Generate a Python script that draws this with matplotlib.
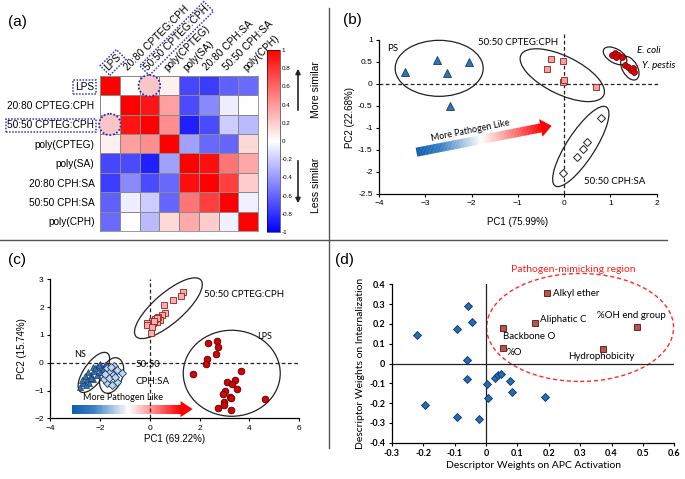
import numpy as np
import matplotlib
matplotlib.use('Agg')
import matplotlib.pyplot as plt
from matplotlib.patches import Ellipse, Polygon
from matplotlib.colors import LinearSegmentedColormap
import matplotlib.transforms as mtransforms
from matplotlib.cm import ScalarMappable
from matplotlib.colors import Normalize

# ---------------- data ----------------
# (a) correlation heatmap
hm_labels = ['LPS', '20:80 CPTEG:CPH', '50:50 CPTEG:CPH', 'poly(CPTEG)',
             'poly(SA)', '20:80 CPH:SA', '50:50 CPH:SA', 'poly(CPH)']
hm_boxed = ['LPS', '50:50 CPTEG:CPH']
corr = [
    [1.00, 0.00, 0.00, 0.06, -0.72, -0.76, -0.62, -0.58],
    [0.00, 1.00, 0.92, 0.37, -0.71, -0.46, -0.07, 0.00],
    [0.00, 0.92, 1.00, 0.44, -0.87, -0.71, -0.20, -0.27],
    [0.06, 0.37, 0.44, 1.00, -0.37, -0.59, -0.60, 0.15],
    [-0.72, -0.71, -0.87, -0.37, 1.00, 0.94, 0.54, 0.35],
    [-0.76, -0.46, -0.71, -0.59, 0.94, 1.00, 0.75, 0.20],
    [-0.62, -0.07, -0.20, -0.60, 0.54, 0.75, 1.00, -0.06],
    [-0.58, 0.00, -0.27, 0.15, 0.33, 0.20, -0.06, 1.00],
]
hm_circles = [(0, 2), (2, 0)]           # (row, col) highlighted cells
cbar_ticks = [1, 0.8, 0.6, 0.4, 0.2, 0, -0.2, -0.4, -0.6, -0.8, -1]

# (b) PCA
b_ps_x = [-3.44, -2.75, -2.54, -2.05, -2.47]
b_ps_y = [0.28, 0.55, 0.26, 0.49, -0.50]
b_cpteg_x = [-0.29, -0.38, -0.03, -0.03, 0.00, 0.69]
b_cpteg_y = [0.56, 0.33, 0.52, 0.05, 0.08, -0.06]
b_cphsa_x = [0.79, 0.49, 0.40, 0.27, -0.03]
b_cphsa_y = [-0.78, -1.31, -1.48, -1.65, -2.02]
b_ecoli_x = [1.03, 1.10, 1.17, 1.25, 1.13]
b_ecoli_y = [0.66, 0.70, 0.66, 0.62, 0.61]
b_ypestis_x = [1.32, 1.39, 1.44, 1.48, 1.50]
b_ypestis_y = [0.43, 0.38, 0.32, 0.36, 0.28]
b_xticks = [-4, -3, -2, -1, 0, 1, 2]
b_yticks = [-2.5, -2, -1.5, -1, -0.5, 0, 0.5, 1]
b_yticklabels = ['-2.5', '-2', '-1.5', '-1', '-0.5', '0', '0.5', '1']

# (c) PCA
c_cpteg_x = [1.35, 1.25, 0.95, 0.59, 0.61, 0.48, 0.41, 0.34, 0.28, 0.21,
             0.14, 0.08, -0.02, -0.10, -0.12, 0.08, 0.04, 0.30, 0.18]
c_cpteg_y = [2.53, 2.41, 2.26, 2.09, 1.78, 1.72, 1.55, 1.63, 1.47, 1.56,
             1.42, 1.51, 1.40, 1.44, 1.36, 1.27, 1.06, 1.60, 1.50]
c_lps_x = [2.33, 2.69, 2.75, 2.65, 2.31, 2.24, 1.72, 3.66, 3.09, 3.44, 3.32,
           3.51, 3.03, 2.93, 3.22, 3.28, 2.98, 2.98, 3.25, 2.73, 4.61]
c_lps_y = [0.72, 0.79, 0.58, 0.31, 0.12, -0.06, -0.41, -0.30, -0.69, -0.63, -0.78,
           -0.95, -1.01, -1.13, -1.22, -1.28, -1.40, -1.52, -1.70, -1.64, -1.30]
c_ns_x = [-2.80, -2.66, -2.50, -2.37, -2.24, -2.10, -1.99, -1.78, -2.29, -2.46, -2.60,
          -2.13, -1.99, -1.86, -2.42, -2.26, -2.70, -2.55, -2.35, -2.18, -2.05]
c_ns_y = [-0.86, -0.72, -0.60, -0.44, -0.30, -0.14, -0.05, -0.08, -0.14, -0.32, -0.48,
          -0.44, -0.32, -0.24, -0.72, -0.60, -0.62, -0.80, -0.55, -0.20, -0.10]
c_cphsa_x = [-1.73, -1.45, -1.59, -1.46, -1.30, -1.10, -1.32, -1.70, -1.85, -1.52,
             -1.62, -1.55, -1.80, -1.38]
c_cphsa_y = [-0.20, -0.12, -0.32, -0.44, -0.26, -0.38, -0.68, -0.72, -0.60, -0.80,
             -0.55, -0.15, -0.40, -0.50]
c_xticks = [-4, -2, 0, 2, 4, 6]
c_yticks = [-2, -1, 0, 1, 2, 3]

# (d) descriptor weights
d_other_x = [-0.056, -0.043, -0.093, -0.220, -0.061, -0.061, 0.005, 0.029, 0.040,
             0.047, 0.077, 0.083, 0.006, 0.188, -0.194, -0.093, -0.022]
d_other_y = [0.292, 0.208, 0.173, 0.144, 0.018, -0.078, -0.103, -0.071, -0.058,
             -0.053, -0.090, -0.142, -0.176, -0.171, -0.209, -0.270, -0.282]
d_path_names = ['Alkyl ether', 'Aliphatic C', 'Backbone O', '%O',
                '%OH end group', 'Hydrophobicity']
d_path_x = [0.194, 0.156, 0.054, 0.054, 0.480, 0.372]
d_path_y = [0.355, 0.203, 0.179, 0.080, 0.183, 0.073]
d_xticks = [-0.3, -0.2, -0.1, 0, 0.1, 0.2, 0.3, 0.4, 0.5, 0.6]
d_xticklabels = ['-0.3', '-0.2', '-0.1', '0', '0.1', '0.2', '0.3', '0.4', '0.5', '0.6']
d_yticks = [-0.4, -0.3, -0.2, -0.1, 0, 0.1, 0.2, 0.3, 0.4]
d_yticklabels = ['-0.4', '-0.3', '-0.2', '-0.1', '0', '0.1', '0.2', '0.3', '0.4']

# ---------------- figure ----------------
W, H = 685, 479
fig = plt.figure(figsize=(6.85, 4.79), dpi=100)
ARIAL = 'Liberation Sans'
CAL = 'Lato'


def axrect(x0, y0, x1, y1):
    return [x0 / W, 1 - y1 / H, (x1 - x0) / W, (y1 - y0) / H]


def px_ellipse(ax, cx, cy, w, h, angle=0, **kw):
    tr = fig.dpi_scale_trans + mtransforms.ScaledTranslation(cx, cy, ax.transData)
    e = Ellipse((0, 0), w / fig.dpi, h / fig.dpi, angle=angle, transform=tr,
                fill=False, clip_on=False, **kw)
    ax.add_patch(e)


arrow_cmap = LinearSegmentedColormap.from_list(
    'arr', [(0, '#0d5cb0'), (0.2, '#3a7fc4'), (0.52, '#ffffff'), (0.8, '#ff7070'), (1, '#ff0000')])


def gradient_arrow(ax, start, end, shaft_px, head_w_px, head_len_px, n=90):
    dpi = fig.dpi
    p0 = ax.transData.transform(start)
    p1 = ax.transData.transform(end)
    d = (p1 - p0) / dpi
    L = np.hypot(*d)
    u = d / L
    nrm = np.array([-u[1], u[0]])
    tr = fig.dpi_scale_trans + mtransforms.ScaledTranslation(start[0], start[1], ax.transData)
    sw = shaft_px / dpi / 2
    hw = head_w_px / dpi / 2
    hl = head_len_px / dpi
    Ls = L - hl
    for i in range(n):
        a = Ls * i / n
        b = Ls * (i + 1) / n + 0.003
        verts = [a * u + sw * nrm, b * u + sw * nrm, b * u - sw * nrm, a * u - sw * nrm]
        ax.add_patch(Polygon(verts, closed=True, transform=tr, lw=0,
                             facecolor=arrow_cmap((i + 0.5) / n), edgecolor='none', clip_on=False))
    head = [Ls * u + hw * nrm, L * u, Ls * u - hw * nrm]
    ax.add_patch(Polygon(head, closed=True, transform=tr, lw=0,
                         facecolor=arrow_cmap(1.0), edgecolor='none', clip_on=False))


def style_axes(ax, fs=6, family=ARIAL, weight='normal'):
    for s in ['top', 'right']:
        ax.spines[s].set_visible(False)
    for s in ['left', 'bottom']:
        ax.spines[s].set_linewidth(0.9)
    ax.tick_params(direction='out', length=2.5, width=0.8, labelsize=fs, pad=2)
    for t in ax.get_xticklabels() + ax.get_yticklabels():
        t.set_family(family)
        t.set_weight(weight)


# overlay axes (pixel coordinates) for dividers, labels, side arrows
ov = fig.add_axes([0, 0, 1, 1], zorder=5)
ov.set_xlim(0, W)
ov.set_ylim(H, 0)
ov.axis('off')
ov.patch.set_alpha(0)
ov.plot([329, 329], [8, 448], color='#555555', lw=1)
ov.plot([0, 667], [240, 240], color='#555555', lw=1)
for lab, (x, y) in zip(['(a)', '(b)', '(c)', '(d)'],
                       [(8, 22), (343, 20), (8, 260), (335, 260)]):
    ov.text(x, y, lab, fontsize=11, family=ARIAL, ha='left', va='center')

# ---------------- (a) heatmap ----------------
axa = fig.add_axes(axrect(100, 76, 258, 231))
M = np.array(corr)
n = len(hm_labels)
axa.pcolormesh(np.arange(n + 1), np.arange(n + 1), M, cmap='bwr', vmin=-1, vmax=1,
               edgecolors='#8a8a8a', linewidth=0.6)
axa.set_xlim(0, n)
axa.set_ylim(n, 0)
axa.set_xticks([])
axa.set_yticks(np.arange(n) + 0.5)
axa.set_yticklabels(hm_labels, fontsize=7.3, family=ARIAL)
axa.tick_params(axis='y', length=0, pad=4)
for s in axa.spines.values():
    s.set_linewidth(0.6)
    s.set_color('#8a8a8a')
box_kw = dict(boxstyle='square,pad=0.18', fc='none', ec='#2a36d0', ls=(0, (1, 1)), lw=1.1)
for t in axa.get_yticklabels():
    if t.get_text() in hm_boxed:
        t.set_bbox(box_kw)
for i, lab in enumerate(hm_labels):
    axa.text(i + 0.32, -0.35, lab, rotation=45, ha='left', va='center',
             rotation_mode='anchor', fontsize=7.3, family=ARIAL,
             bbox=box_kw if lab in hm_boxed else None, clip_on=False)
for r, c in hm_circles:
    axa.add_patch(Ellipse((c + 0.5, r + 0.5), 1.1, 1.1, facecolor='#f9c6c6',
                          edgecolor='#2a2ac0', ls=(0, (1, 1)), lw=1.3, clip_on=False, zorder=3))

cax = fig.add_axes(axrect(267, 50, 280, 232))
sm = ScalarMappable(norm=Normalize(-1, 1), cmap='bwr')
cb = fig.colorbar(sm, cax=cax, ticks=cbar_ticks)
cb.ax.set_yticklabels([('%g' % v) for v in cbar_ticks], fontsize=4.5, family=ARIAL)
cb.ax.tick_params(length=0, pad=1)
cb.outline.set_linewidth(0.4)

ov.annotate('', xy=(298, 66), xytext=(298, 113),
            arrowprops=dict(arrowstyle='-|>', color='#222222', lw=1.2, mutation_scale=7))
ov.annotate('', xy=(298, 206), xytext=(298, 158),
            arrowprops=dict(arrowstyle='-|>', color='#222222', lw=1.2, mutation_scale=7))
ov.text(316, 90, 'More similar', rotation=90, ha='center', va='center', fontsize=7.5, family=ARIAL)
ov.text(316, 185, 'Less similar', rotation=90, ha='center', va='center', fontsize=7.5, family=ARIAL)

# ---------------- (b) ----------------
axb = fig.add_axes(axrect(379, 40, 656.7, 194))
axb.set_xlim(-4, 2)
axb.set_ylim(-2.5, 1)
axb.set_xticks(b_xticks)
axb.set_yticks(b_yticks)
axb.set_yticklabels(b_yticklabels)
style_axes(axb)
axb.set_xlabel('PC1 (75.99%)', fontsize=7, family=ARIAL, labelpad=7)
axb.set_ylabel('PC2 (22.68%)', fontsize=7, family=ARIAL, labelpad=2)
axb.plot([-4, 2.07], [0, 0], ls=(0, (3, 2)), color='#222222', lw=0.9, clip_on=False)
axb.plot([0, 0], [-2.5, 1.19], ls=(0, (3, 2)), color='#222222', lw=0.9, clip_on=False)
axb.plot(b_ps_x, b_ps_y, ls='none', marker='^', ms=5.5, mfc='#2e75b6', mec='#1f3864', mew=0.6, zorder=4)
axb.plot(b_cpteg_x, b_cpteg_y, ls='none', marker='s', ms=4.8, mfc='#f2a0a0', mec='#8b2020', mew=0.6, zorder=4)
axb.plot(b_cphsa_x, b_cphsa_y, ls='none', marker='D', ms=3.7, mfc='white', mec='#222222', mew=0.7, zorder=4)
axb.plot(b_ecoli_x, b_ecoli_y, ls='none', marker='o', ms=4.3, mfc='#e00000', mec='#600000', mew=0.5, zorder=4)
axb.plot(b_ypestis_x, b_ypestis_y, ls='none', marker='o', ms=4.3, mfc='#e00000', mec='#600000', mew=0.5, zorder=4)
px_ellipse(axb, -2.70, 0.356, 88, 56, 0, ec='#222222', lw=0.9)
px_ellipse(axb, -0.04, 0.20, 92, 38, -26, ec='#222222', lw=0.9)
px_ellipse(axb, 0.36, -1.42, 94, 28, 57, ec='#222222', lw=0.9)
px_ellipse(axb, 1.10, 0.64, 26, 14, -30, ec='#222222', lw=0.9)
px_ellipse(axb, 1.42, 0.36, 26, 15, -60, ec='#222222', lw=0.9)
axb.text(-3.83, 0.81, 'PS', fontsize=7, family=CAL, ha='left', va='center')
axb.text(-0.99, 0.94, '50:50 CPTEG:CPH', fontsize=7, family=CAL, ha='center', va='center')
axb.text(0.42, -2.22, '50:50 CPH:SA', fontsize=7, family=CAL, ha='left', va='center')
axb.text(1.57, 0.77, 'E. coli', fontsize=7, family=CAL, style='italic', ha='left', va='center', clip_on=False)
axb.text(1.68, 0.43, 'Y. pestis', fontsize=7, family=CAL, style='italic', ha='left', va='center', clip_on=False)
gradient_arrow(axb, (-3.19, -1.55), (-0.27, -0.95), 9, 18, 11)
axb.text(-2.03, -1.07, 'More Pathogen Like', fontsize=6.5, family=CAL, rotation=11.5,
         ha='center', va='center')

# ---------------- (c) ----------------
axc = fig.add_axes(axrect(50, 279.3, 299.3, 418.3))
axc.set_xlim(-4, 6)
axc.set_ylim(-2, 3)
axc.set_xticks(c_xticks)
axc.set_yticks(c_yticks)
style_axes(axc)
axc.set_xlabel('PC1 (69.22%)', fontsize=7, family=ARIAL, labelpad=2)
axc.set_ylabel('PC2 (15.74%)', fontsize=7, family=ARIAL, labelpad=5)
axc.plot([-4, 6], [0, 0], ls=(0, (3, 2)), color='#222222', lw=0.9, clip_on=False)
axc.plot([0, 0], [-2, 3], ls=(0, (3, 2)), color='#222222', lw=0.9, clip_on=False)
axc.plot(c_cpteg_x, c_cpteg_y, ls='none', marker='s', ms=4.1, mfc='#f4b0b0', mec='#9b1c1c', mew=0.6, zorder=4)
axc.plot(c_lps_x, c_lps_y, ls='none', marker='o', ms=4.8, mfc='#d80000', mec='#500000', mew=0.6, zorder=4)
axc.plot(c_ns_x, c_ns_y, ls='none', marker='^', ms=3.8, mfc='#2e75b6', mec='#1f3864', mew=0.5, zorder=4)
axc.plot(c_cphsa_x, c_cphsa_y, ls='none', marker='D', ms=3.6, mfc='#bdd7ee', mec='#1f3864', mew=0.6, zorder=5)
px_ellipse(axc, 0.75, 1.96, 86, 30, 41, ec='#222222', lw=0.9)
px_ellipse(axc, 3.29, -0.38, 97, 86, 0, ec='#222222', lw=0.9)
px_ellipse(axc, -2.24, -0.35, 47, 20, 55, ec='#222222', lw=0.9)
px_ellipse(axc, -1.53, -0.46, 37, 22, 70, ec='#222222', lw=0.9)
axc.text(2.18, 2.44, '50:50 CPTEG:CPH', fontsize=7, family=CAL, ha='left', va='center')
axc.text(4.62, 0.94, 'LPS', fontsize=6.5, family=CAL, ha='center', va='center')
axc.text(-2.80, 0.28, 'NS', fontsize=6.5, family=CAL, ha='center', va='center')
axc.text(-0.59, -0.08, '50:50', fontsize=7, family=CAL, ha='left', va='center')
axc.text(-0.59, -0.68, 'CPH:SA', fontsize=7, family=CAL, ha='left', va='center')
gradient_arrow(axc, (-3.13, -1.67), (1.72, -1.67), 9, 16, 12)
axc.text(-1.06, -1.24, 'More Pathogen Like', fontsize=6.5, family=CAL, ha='center', va='center')

# ---------------- (d) ----------------
axd = fig.add_axes(axrect(391.7, 284.3, 674.3, 442.7))
axd.set_xlim(-0.3, 0.6)
axd.set_ylim(-0.4, 0.4)
axd.set_xticks(d_xticks)
axd.set_xticklabels(d_xticklabels)
axd.set_yticks(d_yticks)
axd.set_yticklabels(d_yticklabels)
style_axes(axd, fs=6.5, family=CAL, weight='bold')
axd.set_xlabel('Descriptor Weights on APC Activation', fontsize=7.5, family=CAL, labelpad=2)
axd.set_ylabel('Descriptor Weights on Internalization', fontsize=7.5, family=CAL, labelpad=3)
axd.axhline(0, color='#222222', lw=0.9)
axd.axvline(0, color='#222222', lw=0.9)
axd.plot(d_other_x, d_other_y, ls='none', marker='D', ms=4.1, mfc='#1f6fb8', mec='#14305a', mew=0.6, zorder=4)
axd.plot(d_path_x, d_path_y, ls='none', marker='s', ms=4.1, mfc='#c0504d', mec='#4a1414', mew=0.6, zorder=4)
label_pos = {'Alkyl ether': (0.215, 0.355, 'left'), 'Aliphatic C': (0.172, 0.223, 'left'),
             'Backbone O': (0.054, 0.136, 'left'), '%O': (0.066, 0.055, 'left'),
             '%OH end group': (0.464, 0.243, 'center'), 'Hydrophobicity': (0.369, 0.035, 'center')}
for name in d_path_names:
    x, y, ha = label_pos[name]
    axd.text(x, y, name, fontsize=7, family=CAL, ha=ha, va='center')
px_ellipse(axd, 0.30, 0.182, 187, 108, 0, ec='#ff2a2a', lw=1, ls=(0, (3, 2)))
axd.text(0.279, 0.476, 'Pathogen-mimicking region', fontsize=7.5, family=CAL,
         color='#ff2020', ha='center', va='center', clip_on=False)

fig.savefig('out.png', dpi=100)
